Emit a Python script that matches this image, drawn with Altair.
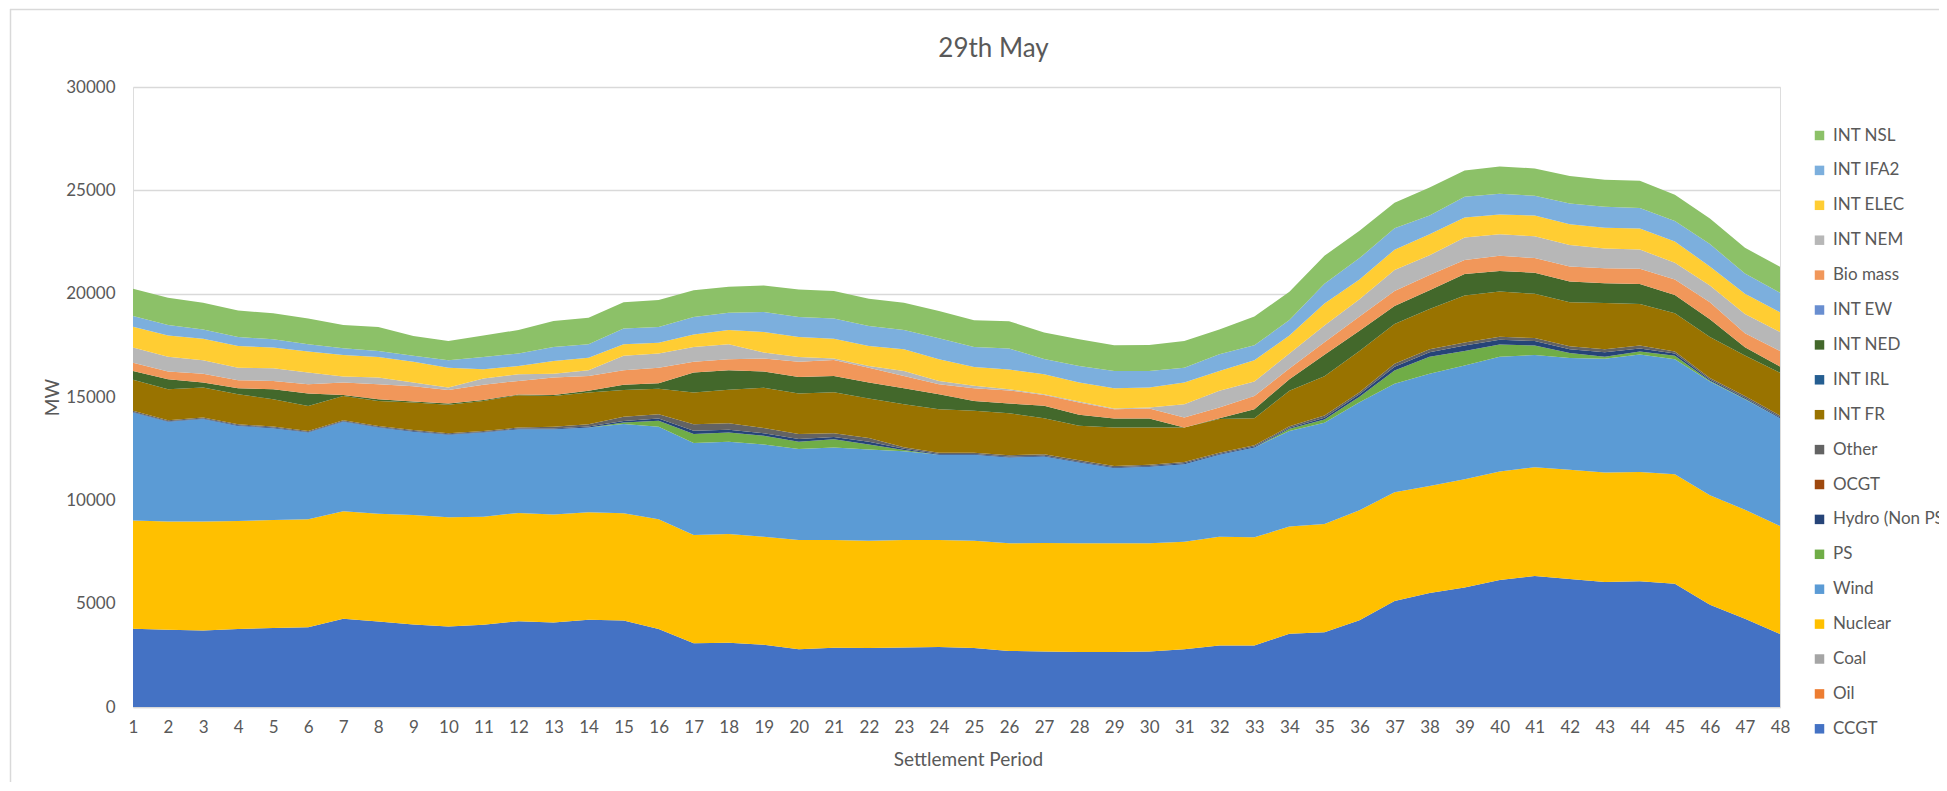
import altair as alt
import pandas as pd

periods = list(range(1, 49))

series_names = ["CCGT", "Oil", "Coal", "Nuclear", "Wind", "PS", "Hydro (Non PS)", "OCGT", "Other",
                "INT FR", "INT IRL", "INT NED", "INT EW", "Bio mass", "INT NEM", "INT ELEC", "INT IFA2", "INT NSL"]
series_colors = ["#4472C4", "#ED7D31", "#A5A5A5", "#FFC000", "#5B9BD5", "#70AD47", "#264478", "#9E480E", "#636363",
                 "#997300", "#255E91", "#43682B", "#698ED0", "#F1975A", "#B7B7B7", "#FFCD33", "#7CAFDD", "#8CC168"]

ccgt = [3790, 3740, 3700, 3780, 3820, 3860, 4270, 4140, 3990, 3900, 3980, 4150, 4090, 4220, 4190, 3780,
        3090, 3110, 3010, 2800, 2870, 2850, 2880, 2900, 2850, 2710, 2690, 2660, 2660, 2690, 2790, 2980,
        2980, 3540, 3620, 4200, 5130, 5520, 5780, 6140, 6340, 6195, 6050, 6090, 5960, 4950, 4275, 3530]
oil = [0, 0, 0, 0, 0, 0, 0, 0, 0, 0, 0, 0, 0, 0, 0, 0, 0, 0, 0, 0, 0, 0, 0, 0,
       0, 0, 0, 0, 0, 0, 0, 0, 0, 0, 0, 0, 0, 0, 0, 0, 0, 0, 0, 0, 0, 0, 0, 0]
coal = [0, 0, 0, 0, 0, 0, 0, 0, 0, 0, 0, 0, 0, 0, 0, 0, 0, 0, 0, 0, 0, 0, 0, 0,
        0, 0, 0, 0, 0, 0, 0, 0, 0, 0, 0, 0, 0, 0, 0, 0, 0, 0, 0, 0, 0, 0, 0, 0]
nuclear = [5230, 5230, 5270, 5220, 5230, 5220, 5200, 5210, 5300, 5280, 5230, 5240, 5220, 5200, 5180, 5300,
           5230, 5260, 5230, 5280, 5210, 5200, 5200, 5180, 5200, 5210, 5250, 5260, 5260, 5230, 5210, 5260,
           5230, 5190, 5240, 5320, 5260, 5175, 5240, 5250, 5265, 5285, 5300, 5280, 5300, 5290, 5275, 5230]
wind = [5230, 4830, 4960, 4600, 4440, 4200, 4330, 4170, 4030, 3990, 4070, 4050, 4130, 4100, 4320, 4480,
        4450, 4460, 4460, 4400, 4480, 4410, 4290, 4120, 4150, 4150, 4180, 3910, 3640, 3700, 3750, 3960,
        4350, 4630, 4900, 5220, 5250, 5430, 5510, 5555, 5430, 5410, 5505, 5690, 5570, 5510, 5340, 5210]
ps = [0, 0, 0, 0, 0, 0, 0, 0, 0, 0, 0, 0, 0, 0, 80, 290,
      435, 450, 430, 355, 400, 240, 60, 0, 0, 0, 0, 0, 0, 0, 0, 0,
      0, 100, 150, 270, 640, 820, 690, 600, 455, 240, 90, 145, 160, 40, 20, 0]
hydro = [30, 30, 30, 30, 30, 30, 30, 30, 30, 30, 30, 30, 40, 50, 70, 110,
         160, 130, 110, 130, 110, 130, 60, 40, 40, 40, 40, 40, 40, 40, 40, 40,
         40, 50, 80, 120, 180, 220, 270, 220, 220, 180, 220, 145, 110, 60, 50, 50]
ocgt = [0, 0, 0, 0, 0, 0, 0, 0, 0, 0, 0, 0, 0, 0, 0, 0, 0, 0, 0, 0, 0, 0, 0, 0,
        0, 0, 0, 0, 0, 0, 0, 0, 0, 0, 0, 0, 0, 0, 0, 0, 0, 0, 0, 0, 0, 0, 0, 0]
other = [50, 50, 50, 50, 50, 50, 50, 50, 50, 50, 50, 50, 80, 110, 200, 210,
         320, 320, 260, 240, 180, 190, 80, 60, 60, 70, 70, 70, 60, 60, 60, 60,
         60, 70, 120, 100, 145, 145, 145, 145, 145, 145, 145, 145, 100, 70, 90, 80]
int_fr = [1500, 1500, 1450, 1450, 1320, 1210, 1170, 1210, 1330, 1370, 1450, 1570, 1490, 1540, 1300, 1230,
          1530, 1620, 1950, 1965, 1980, 1910, 2080, 2110, 2030, 2030, 1745, 1665, 1860, 1800, 1670, 1630,
          1315, 1720, 1890, 1990, 1925, 1950, 2275, 2190, 2135, 2135, 2240, 2005, 1850, 1980, 1960, 2070]
int_irl = [0, 0, 0, 0, 0, 0, 0, 0, 0, 0, 0, 0, 0, 0, 0, 0, 0, 0, 0, 0, 0, 0, 0, 0,
           0, 0, 0, 0, 0, 0, 0, 0, 0, 0, 0, 0, 0, 0, 0, 0, 0, 0, 0, 0, 0, 0, 0, 0]
int_ned = [430, 480, 240, 290, 490, 600, 50, 80, 50, 60, 40, 30, 50, 80, 250, 270,
           965, 940, 780, 800, 790, 770, 770, 720, 480, 480, 600, 535, 440, 440, 0, 45,
           435, 560, 1050, 990, 870, 910, 1040, 1000, 1020, 1000, 950, 970, 885, 860, 400, 300]
int_ew = [0, 0, 0, 0, 0, 0, 0, 0, 0, 0, 0, 0, 0, 0, 0, 0, 0, 0, 0, 0, 0, 0, 0, 0,
          0, 0, 0, 0, 0, 0, 0, 0, 0, 0, 0, 0, 0, 0, 0, 0, 0, 0, 0, 0, 0, 0, 0, 0]
biomass = [400, 370, 430, 390, 400, 450, 600, 730, 740, 660, 740, 660, 840, 720, 700, 750,
           520, 540, 630, 730, 770, 720, 600, 490, 610, 630, 520, 590, 450, 480, 490, 515,
           640, 520, 600, 690, 730, 730, 680, 730, 710, 730, 730, 730, 755, 820, 670, 750]
int_nem = [730, 720, 650, 610, 610, 560, 290, 320, 180, 120, 300, 320, 190, 270, 700, 680,
           720, 720, 290, 240, 70, 80, 240, 160, 120, 50, 40, 50, 30, 50, 640, 810,
           700, 720, 810, 830, 1020, 960, 1090, 1040, 1060, 1040, 960, 940, 800, 820, 940, 920]
int_elec = [1010, 1030, 1040, 1050, 1000, 1020, 1040, 1000, 1000, 960, 450, 400, 610, 610, 560, 530,
            610, 690, 1000, 960, 960, 970, 1050, 1050, 910, 960, 970, 920, 980, 970, 1050, 960,
            1030, 870, 1070, 950, 980, 1010, 970, 960, 1000, 1000, 1000, 1010, 1030, 920, 970, 960]
int_ifa2 = [520, 500, 450, 430, 400, 350, 330, 290, 290, 360, 600, 610, 680, 650, 760, 760,
            840, 840, 960, 970, 980, 960, 930, 1010, 970, 1020, 730, 800, 840, 800, 720, 810,
            720, 750, 950, 1040, 1030, 910, 1000, 1000, 960, 1000, 1010, 1000, 1000, 1080, 980, 940]
int_nsl = [1320, 1320, 1290, 1290, 1260, 1250, 1120, 1160, 960, 930, 1040, 1130, 1260, 1290, 1280, 1300,
           1290, 1250, 1290, 1330, 1330, 1330, 1320, 1320, 1290, 1320, 1280, 1290, 1240, 1260, 1290, 1200,
           1400, 1370, 1360, 1320, 1240, 1360, 1270, 1320, 1320, 1330, 1310, 1310, 1270, 1240, 1250, 1260]

y_ticks = [0, 5000, 10000, 15000, 20000, 25000, 30000]

series_values = [ccgt, oil, coal, nuclear, wind, ps, hydro, ocgt, other, int_fr, int_irl, int_ned,
                 int_ew, biomass, int_nem, int_elec, int_ifa2, int_nsl]

rows = []
for idx, (name, vals) in enumerate(zip(series_names, series_values)):
    for p, v in zip(periods, vals):
        rows.append({"Period": p, "Series": name, "MW": v, "StackOrder": idx})
df = pd.DataFrame(rows)

legend_order = list(reversed(series_names))
legend_colors = list(reversed(series_colors))

FONT = "Lato"
TXT = "#595959"
GRID = "#D9D9D9"

area = alt.Chart(df).mark_area(opacity=1, interpolate="linear").encode(
    x=alt.X("Period:Q",
            scale=alt.Scale(domain=[1, 48], nice=False, zero=False),
            axis=alt.Axis(values=periods, format="d", title="Settlement Period", grid=False,
                          ticks=False, domainColor=GRID, domainWidth=1.5, labelFont=FONT,
                          labelFontSize=17, labelColor=TXT, labelPadding=12, labelAngle=0,
                          titleFont=FONT, titleFontSize=19, titleColor=TXT, titleFontWeight="normal",
                          titleX=835, titleY=52, titleAlign="center", titleBaseline="middle",
                          labelFlush=False)),
    y=alt.Y("MW:Q", stack="zero",
            scale=alt.Scale(domain=[0, 30000], nice=False),
            axis=alt.Axis(values=y_ticks, format="d", title="MW", grid=True, gridColor=GRID,
                          gridWidth=1.5, domain=False, ticks=False, labelFont=FONT, labelFontSize=17,
                          labelColor=TXT, labelPadding=18, titleFont=FONT, titleFontSize=19,
                          titleColor=TXT, titleFontWeight="normal", titleX=-81, titleY=310,
                          titleAlign="center", titleBaseline="middle")),
    color=alt.Color("Series:N",
                    scale=alt.Scale(domain=legend_order, range=legend_colors),
                    legend=alt.Legend(orient="none", legendX=1678, legendY=40, title=None,
                                      symbolType="square", symbolSize=90, symbolStrokeWidth=0,
                                      labelFont=FONT, labelFontSize=17, labelColor=TXT,
                                      labelOffset=5, rowPadding=16.9, padding=0, labelLimit=300)),
    order=alt.Order("StackOrder:Q", sort="ascending"),
)

frame_df = pd.DataFrame({"k": [0]})
border_top = alt.Chart(frame_df).mark_rule(color=GRID, strokeWidth=1.5).encode(
    x=alt.value(-123), x2=alt.value(1810), y=alt.value(-77.5))
border_left = alt.Chart(frame_df).mark_rule(color=GRID, strokeWidth=1.5).encode(
    x=alt.value(-122.5), y=alt.value(-78), y2=alt.value(700))

chart = alt.layer(area, border_top, border_left).properties(
    width=1647, height=620,
    padding={"left": 125, "top": 79, "right": 159, "bottom": 75},
    autosize=alt.AutoSizeParams(type="none"),
    title=alt.TitleParams("29th May", font=FONT, fontSize=26, color=TXT, fontWeight="normal",
                          anchor="middle", frame="group", dx=37, offset=-67, baseline="middle"),
).configure_view(stroke=None).configure(background="white")

chart.save("out.html", embed_options={"renderer": "svg", "actions": False})
